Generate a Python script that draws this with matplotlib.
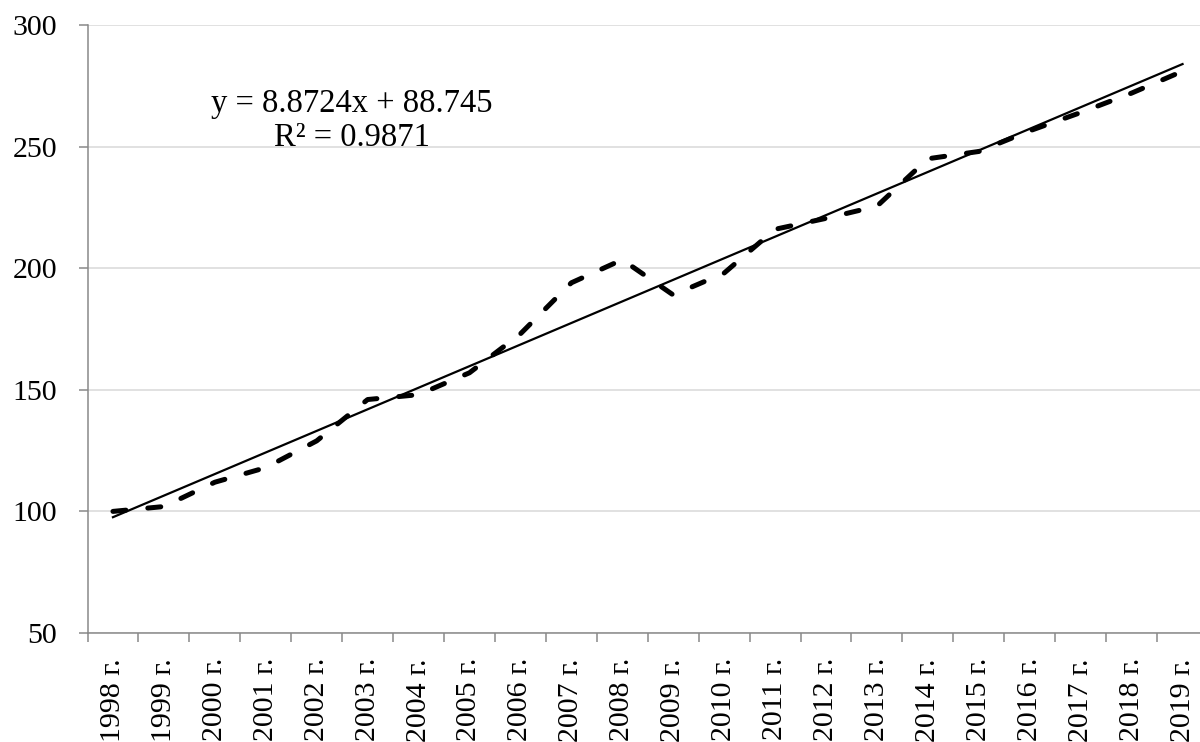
import numpy as np
import matplotlib.pyplot as plt

plt.rcParams['font.family'] = ['Liberation Serif', 'DejaVu Serif']

years = [f'{y} г.' for y in range(1998, 2020)]
values = [100, 102, 112, 118, 129, 146, 148, 157, 173, 194, 203.5,
          189, 198, 216, 220.5, 225.5, 245, 248, 256.5, 264, 272, 281]

# linear trend as reported on the chart (x = 1, 2, ...)
slope = 8.8724
intercept = 88.745
r_squared = 0.9871

x = np.arange(len(years))
trend = slope * (x + 1) + intercept

fig = plt.figure(figsize=(12, 7.42), dpi=100)
ax = fig.add_axes([87.5 / 1200, 109 / 742, (1208 - 87.5) / 1200, (633 - 25) / 742])

axis_grey = '#898989'

ax.plot(x, values, color='black', lw=3.6, linestyle=(0, (2.6, 4.4)),
        dash_capstyle='round', solid_capstyle='round', clip_on=False, zorder=3)
ax.plot(x, trend, color='black', lw=1.6, clip_on=False, zorder=4)

ax.set_xlim(-0.5, len(years) - 0.5)
ax.set_ylim(50, 300)
ax.set_yticks([50, 100, 150, 200, 250, 300])
ax.grid(axis='y', color='#d9d9d9', lw=1.1)
ax.set_axisbelow(True)

for side in ['top', 'right']:
    ax.spines[side].set_visible(False)
for side in ['left', 'bottom']:
    ax.spines[side].set_color(axis_grey)
    ax.spines[side].set_linewidth(1.1)

ax.set_xticks(x)
ax.set_xticklabels(years, rotation=90, va='top')
ax.set_xticks(np.arange(len(years) + 1) - 0.5, minor=True)
ax.tick_params(axis='x', which='major', length=0, pad=18, labelsize=21.5)
ax.tick_params(axis='x', which='minor', length=6.5, width=1.1, color=axis_grey, direction='out')
ax.tick_params(axis='y', length=6.8, width=1.1, color=axis_grey, pad=15, labelsize=21.5)

ax.text(4.69, 260.5, f'y = {slope}x + {intercept}\nR² = {r_squared}',
        ha='center', va='center', multialignment='center', fontsize=23.5, linespacing=1.15)

fig.savefig('out.png', dpi=100)
